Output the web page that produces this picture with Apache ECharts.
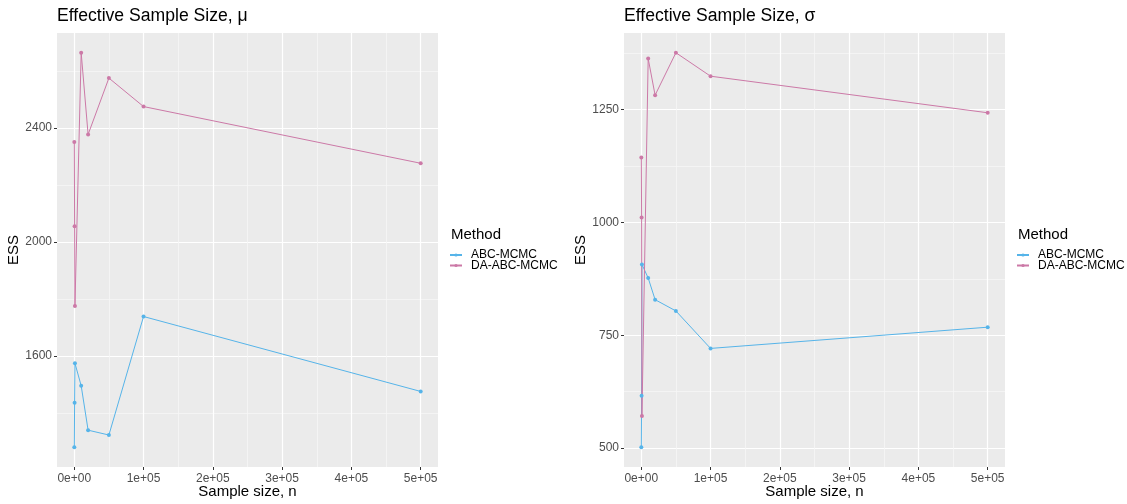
<!DOCTYPE html>
<html>
<head>
<meta charset="utf-8">
<script src="https://cdn.jsdelivr.net/npm/echarts@6/dist/echarts.min.js"></script>
<style>
  html, body { margin: 0; padding: 0; background: #fff; }
  #chart { width: 1127px; height: 504px; }
</style>
</head>
<body>
<div id="chart"></div>
<script>
// Sample sizes n and effective sample sizes for each method
const sampleSizes = [100, 500, 1000, 10000, 20000, 50000, 100000, 500000];
const muABC = [1279, 1435, 1574, 1495, 1339, 1322, 1738, 1475];
const muDA = [2351, 2055, 1775, 2664, 2377, 2575, 2475, 2276];
const sigmaABC = [502, 616, 907, 877, 829, 804, 721, 768];
const sigmaDA = [1144, 1011, 571, 1363, 1282, 1376, 1324, 1243];

const methods = ['ABC-MCMC', 'DA-ABC-MCMC'];
const methodColors = ['#56B4E9', '#CC79A7'];

const xMajor = [0, 100000, 200000, 300000, 400000, 500000];
const xMinor = [50000, 150000, 250000, 350000, 450000];
const muMajor = [1600, 2000, 2400];
const muMinor = [1400, 1800, 2200, 2600];
const sigmaMajor = [500, 750, 1000, 1250];
const sigmaMinor = [625, 875, 1125, 1375];

const titles = ['Effective Sample Size, \u03bc', 'Effective Sample Size, \u03c3'];

const FONT = 'Liberation Sans';

// 5% padding on each side of the data range
function padded(values) {
  const lo = Math.min.apply(null, values), hi = Math.max.apply(null, values);
  const pad = (hi - lo) * 0.05;
  return [lo - pad, hi + pad];
}

function sci(v) {
  if (v === 0) return '0e+00';
  const e = Math.floor(Math.log10(Math.abs(v)));
  const m = Math.round(v / Math.pow(10, e));
  return m + 'e' + (e < 0 ? '-' : '+') + String(Math.abs(e)).padStart(2, '0');
}

const xRange = padded(sampleSizes);
const muRange = padded(muABC.concat(muDA));
const sigmaRange = padded(sigmaABC.concat(sigmaDA));

const panels = [
  { left: 57, range: muRange, major: muMajor, minor: muMinor, series: [muABC, muDA] },
  { left: 624, range: sigmaRange, major: sigmaMajor, minor: sigmaMinor, series: [sigmaABC, sigmaDA] }
];

const grids = [], xAxes = [], yAxes = [], series = [], legends = [], titleList = [];

panels.forEach(function (p, gi) {
  grids.push({
    left: p.left, top: 33, width: 381, height: 434,
    outerBoundsMode: 'none', containLabel: false,
    show: true, backgroundColor: '#EBEBEB', borderWidth: 0
  });

  // minor grid axes (drawn first, no labels)
  xAxes.push({
    type: 'value', gridIndex: gi, position: 'bottom', min: xRange[0], max: xRange[1],
    axisLine: { show: false, onZero: false }, axisLabel: { show: false },
    axisTick: { show: false, customValues: xMinor },
    splitLine: { show: true, lineStyle: { color: '#F6F6F6', width: 0.8 } }
  });
  yAxes.push({
    type: 'value', gridIndex: gi, position: 'left', min: p.range[0], max: p.range[1],
    axisLine: { show: false, onZero: false }, axisLabel: { show: false },
    axisTick: { show: false, customValues: p.minor },
    splitLine: { show: true, lineStyle: { color: '#F6F6F6', width: 0.8 } }
  });

  // main axes
  xAxes.push({
    type: 'value', gridIndex: gi, position: 'bottom', min: xRange[0], max: xRange[1],
    name: 'Sample size, n', nameLocation: 'middle', nameGap: 17, nameMoveOverlap: false,
    nameTextStyle: { fontFamily: FONT, fontSize: 15, color: '#000' },
    axisLine: { show: false, onZero: false },
    axisTick: { show: true, length: 3, lineStyle: { color: '#333', width: 1 }, customValues: xMajor },
    axisLabel: { margin: 6, fontFamily: FONT, fontSize: 12, color: '#4D4D4D',
                 customValues: xMajor, formatter: sci },
    splitLine: { show: true, lineStyle: { color: '#FFFFFF', width: 1.2 } }
  });
  yAxes.push({
    type: 'value', gridIndex: gi, position: 'left', min: p.range[0], max: p.range[1],
    name: 'ESS', nameLocation: 'middle', nameGap: 35, nameRotate: 90,
    nameTextStyle: { fontFamily: FONT, fontSize: 15, color: '#000' },
    axisLine: { show: false, onZero: false },
    axisTick: { show: true, length: 3, lineStyle: { color: '#333', width: 1 }, customValues: p.major },
    axisLabel: { margin: 5, fontFamily: FONT, fontSize: 12, color: '#4D4D4D',
                 customValues: p.major, formatter: function (v) { return String(v); } },
    splitLine: { show: true, lineStyle: { color: '#FFFFFF', width: 1.2 } }
  });

  p.series.forEach(function (vals, si) {
    series.push({
      name: methods[si], type: 'line',
      xAxisIndex: gi * 2 + 1, yAxisIndex: gi * 2 + 1,
      data: sampleSizes.map(function (n, i) { return [n, vals[i]]; }),
      symbol: 'circle', symbolSize: 4, showSymbol: true,
      lineStyle: { color: methodColors[si], width: 1 },
      itemStyle: { color: methodColors[si] },
      emphasis: { disabled: true }, animation: false, z: 3
    });
  });

  titleList.push({
    text: titles[gi], left: p.left - 5, top: 2,
    textStyle: { fontFamily: FONT, fontSize: 17.6, fontWeight: 'normal', color: '#000' }
  });
  titleList.push({
    text: 'Method', left: p.left + 389, top: 222,
    textStyle: { fontFamily: FONT, fontSize: 15, fontWeight: 'normal', color: '#000' }
  });
  legends.push({
    data: methods, orient: 'vertical', left: p.left + 392, top: 249,
    itemWidth: 12, itemHeight: 4, itemGap: -1.5, selectedMode: false, padding: 0,
    textStyle: { fontFamily: FONT, fontSize: 12, color: '#000', lineHeight: 11, padding: [0, 0, 0, 4] }
  });
});

const chart = echarts.init(document.getElementById('chart'), null, { renderer: 'canvas' });
chart.setOption({
  backgroundColor: '#FFFFFF',
  animation: false,
  title: titleList,
  legend: legends,
  grid: grids,
  xAxis: xAxes,
  yAxis: yAxes,
  series: series
});
</script>
</body>
</html>
